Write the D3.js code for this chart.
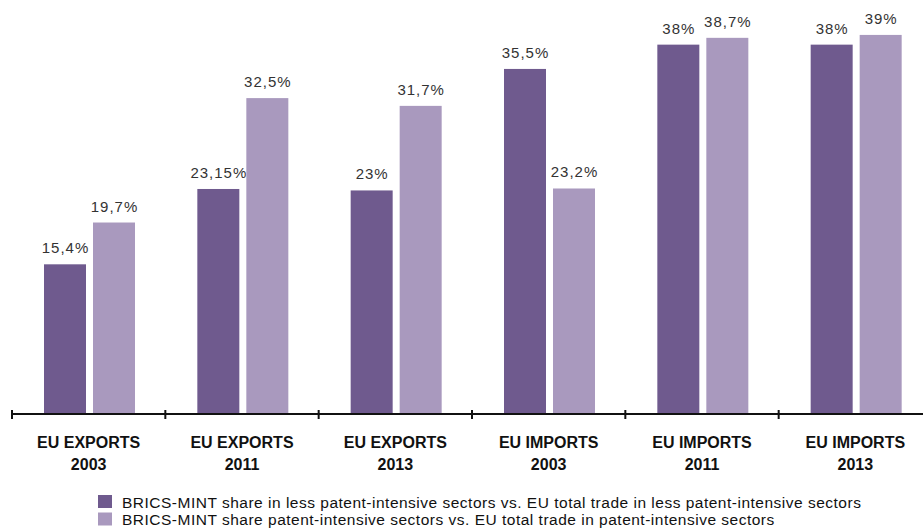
<!DOCTYPE html>
<html><head><meta charset="utf-8">
<script src="https://cdn.jsdelivr.net/npm/d3@7"></script>
<style>body{margin:0;background:#fff}svg{display:block}</style>
</head><body>
<script>
const categories = ["EU EXPORTS|2003","EU EXPORTS|2011","EU EXPORTS|2013","EU IMPORTS|2003","EU IMPORTS|2011","EU IMPORTS|2013"];
const lessIntensive = [15.4, 23.15, 23, 35.5, 38, 38];
const patentIntensive = [19.7, 32.5, 31.7, 23.2, 38.7, 39];
const lessLabels = ["15,4%","23,15%","23%","35,5%","38%","38%"];
const patentLabels = ["19,7%","32,5%","31,7%","23,2%","38,7%","39%"];
const seriesNames = ["BRICS-MINT share in less patent-intensive sectors vs. EU total trade in less patent-intensive sectors",
                     "BRICS-MINT share patent-intensive sectors vs. EU total trade in patent-intensive sectors"];
const colors = ["#6f5a8e", "#a999be"];

const W = 923, H = 530;
const svg = d3.select("body").append("svg").attr("width", W).attr("height", H);
const font = "'Liberation Sans', Arial, Helvetica, sans-serif";

const x = d3.scaleBand().domain(categories).range([12, 932]).paddingInner(0).paddingOuter(0);
const y = d3.scaleLinear().domain([0, 40]).range([414, 25.2]);
const bw = 42;
const offs = [32, 81];

const series = [lessIntensive, patentIntensive];
const labels = [lessLabels, patentLabels];

series.forEach((vals, si) => {
  const g = svg.append("g");
  g.selectAll("rect").data(vals).join("rect")
    .attr("x", (d, i) => x(categories[i]) + offs[si])
    .attr("y", d => y(d))
    .attr("width", bw)
    .attr("height", d => y(0) - y(d))
    .attr("fill", colors[si]);
  g.selectAll("text").data(vals).join("text")
    .attr("x", (d, i) => x(categories[i]) + offs[si] + bw / 2 + 0.5)
    .attr("y", d => y(d) - 11)
    .attr("text-anchor", "middle")
    .attr("font-family", font)
    .attr("font-size", 15)
    .attr("letter-spacing", 1)
    .attr("fill", "#333")
    .text((d, i) => labels[si][i]);
});

// axis
const axis = d3.axisBottom(x).tickSize(0).tickFormat("");
const ag = svg.append("g").attr("transform", `translate(0,${y(0)})`).call(axis);
ag.select(".domain").attr("stroke", "#111").attr("stroke-width", 2).attr("d", `M12,0H932`);
// boundary ticks
svg.append("g").selectAll("line").data(categories).join("line")
  .attr("x1", d => x(d)).attr("x2", d => x(d))
  .attr("y1", y(0) - 4).attr("y2", y(0) + 5)
  .attr("stroke", "#111").attr("stroke-width", 2);

// category labels
const cl = svg.append("g").selectAll("text").data(categories).join("text")
  .attr("x", d => x(d) + x.bandwidth() / 2)
  .attr("y", 448)
  .attr("text-anchor", "middle")
  .attr("font-family", font)
  .attr("font-weight", "bold")
  .attr("font-size", 16)
  .attr("fill", "#111");
cl.each(function(d) {
  const parts = d.split("|");
  const t = d3.select(this);
  t.append("tspan").attr("x", x(d) + x.bandwidth() / 2).text(parts[0]);
  t.append("tspan").attr("x", x(d) + x.bandwidth() / 2).attr("dy", 22).text(parts[1]);
});

// legend
const lg = svg.append("g");
seriesNames.forEach((name, i) => {
  lg.append("rect").attr("x", 98).attr("y", 495 + i * 17.5).attr("width", 14).attr("height", 13).attr("fill", colors[i]);
  lg.append("text").attr("x", 122).attr("y", 507.5 + i * 17).attr("font-family", font)
    .attr("font-size", 15.5).attr("letter-spacing", 0.5).attr("fill", "#111").text(name);
});
</script>
</body></html>
